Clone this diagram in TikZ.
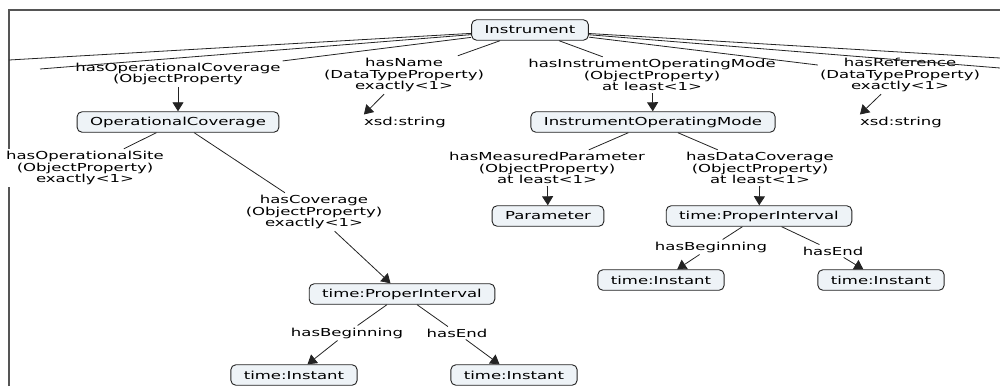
\documentclass[tikz,border=0pt]{standalone}
\usepackage{fontspec}
\setmainfont{DejaVu Sans}[FakeStretch=1.5]
\usetikzlibrary{arrows.meta}
\definecolor{boxfill}{RGB}{238,243,247}
\definecolor{edgec}{RGB}{35,35,35}
\definecolor{framec}{RGB}{85,85,85}
\newcommand\fs{\fontsize{11}{11.7}\selectfont}
\tikzset{
  concept/.style={draw=edgec, fill=boxfill, rounded corners=5pt, line width=0.9pt,
    minimum height=20.5pt, inner xsep=13pt, inner ysep=2pt, font=\fs},
  lbl/.style={fill=white, inner sep=2pt, align=center, font=\fs},
  plain/.style={inner sep=2pt, font=\fs},
  conn/.style={draw=edgec, line width=0.8pt},
  arr/.style={conn, -{Triangle[width=11pt,length=9pt]}},
}
\begin{document}
\begin{tikzpicture}[x=1pt,y=-1pt]
\useasboundingbox (0,0) rectangle (1000,386);
% frame
\draw[framec, line width=1.1pt] (9,386) -- (9,10) -- (1000,10);
% loose ends
\coordinate (wA) at (9,60);
\coordinate (wC) at (40,69);
\coordinate (eA) at (1000,58);
\coordinate (eC) at (1000,68);
% nodes
\node[concept] (inst) at (530,30) {Instrument};
\node[lbl] (hoc) at (178,74) {hasOperationalCoverage\\(ObjectProperty};
\node[concept] (oc) at (178,122) {OperationalCoverage};
\node[lbl] (hn) at (404,75) {hasName\\(DataTypeProperty)\\exactly<1>};
\node[plain] (xs1) at (405,122) {xsd:string};
\node[lbl] (hiom) at (652,75) {hasInstrumentOperatingMode\\(ObjectProperty)\\at least<1>};
\node[concept] (iom) at (653,122) {InstrumentOperatingMode};
\node[lbl] (hr) at (900,75) {hasReference\\(DataTypeProperty)\\exactly<1>};
\node[plain] (xs2) at (901,122) {xsd:string};
\node[lbl] (hos) at (85,168) {hasOperationalSite\\(ObjectProperty)\\exactly<1>};
\node[lbl] (hcov) at (314,212) {hasCoverage\\(ObjectProperty)\\exactly<1>};
\node[concept] (pi1) at (402,294) {time:ProperInterval};
\node[lbl] (hb1) at (347,333) {hasBeginning};
\node[lbl] (he1) at (457,333) {hasEnd};
\node[concept] (ti1) at (294,375) {time:Instant};
\node[concept] (ti2) at (514,375) {time:Instant};
\node[lbl] (hmp) at (547,168) {hasMeasuredParameter\\(ObjectProperty)\\at least<1>};
\node[concept] (par) at (548,216) {Parameter};
\node[lbl] (hdc) at (760,168) {hasDataCoverage\\(ObjectProperty)\\at least<1>};
\node[concept] (pi2) at (759,216) {time:ProperInterval};
\node[lbl] (hb2) at (711,247) {hasBeginning};
\node[lbl] (he2) at (833,251) {hasEnd};
\node[concept] (ti3) at (661,280) {time:Instant};
\node[concept] (ti4) at (881,280) {time:Instant};
% connectors
\draw[conn] (inst) -- (hoc);
\draw[conn] (inst) -- (hn);
\draw[conn] (inst) -- (hiom);
\draw[conn] (inst) -- (hr);
\draw[conn] (inst) -- (wA);
\draw[conn] (inst) -- (wC);
\draw[conn] (inst) -- (eA);
\draw[conn] (inst) -- (eC);
\draw[arr] (hoc) -- (oc);
\draw[arr] ([xshift=-20pt]hn.south) -- ([xshift=2pt]xs1.north west);
\draw[arr] (hiom) -- (iom);
\draw[arr] ([xshift=-19pt]hr.south) -- ([xshift=2pt]xs2.north west);
\draw[conn] (oc) -- (hos);
\draw[conn] (oc) -- (hcov);
\draw[arr] (hcov) -- (pi1);
\draw[conn] (pi1) -- (hb1);
\draw[arr] (hb1) -- (ti1);
\draw[conn] (pi1) -- (he1);
\draw[arr] (he1) -- (ti2);
\draw[conn] (iom) -- (hmp);
\draw[arr] (hmp) -- (par);
\draw[conn] (iom) -- (hdc);
\draw[arr] (hdc) -- (pi2);
\draw[conn] (pi2) -- (hb2);
\draw[arr] (hb2) -- (ti3);
\draw[conn] (pi2) -- (he2);
\draw[arr] (he2) -- (ti4);
\end{tikzpicture}
\end{document}
